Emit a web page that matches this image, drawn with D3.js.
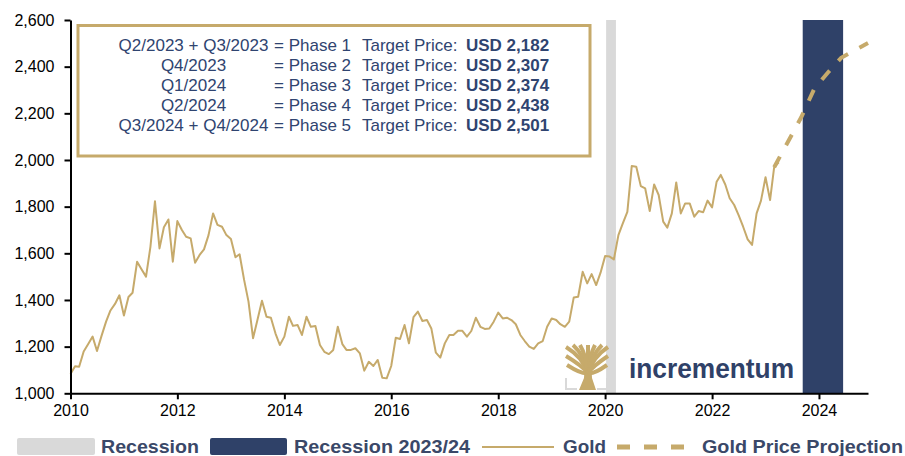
<!DOCTYPE html>
<html>
<head>
<meta charset="utf-8">
<script src="https://cdn.jsdelivr.net/npm/d3@7"></script>
<style>
  body { margin: 0; background: #fff; }
  svg { display: block; }
</style>
</head>
<body>
<div id="chart"></div>
<script>
// monthly gold price (USD/oz), Jan 2010 .. Apr 2023
var goldStart = new Date(2010, 0, 1);
var goldPrices = [
  1083, 1116, 1114, 1179, 1210, 1243, 1181, 1246, 1307, 1355, 1383, 1420,
  1333, 1413, 1431, 1564, 1532, 1500, 1628, 1823, 1621, 1712, 1745, 1564,
  1738, 1700, 1671, 1664, 1560, 1593, 1617, 1678, 1771, 1722, 1714, 1678,
  1661, 1583, 1596, 1486, 1393, 1236, 1314, 1397, 1328, 1324, 1257, 1207,
  1243, 1328, 1289, 1293, 1250, 1328, 1285, 1288, 1207, 1178, 1168, 1186,
  1285, 1211, 1186, 1186, 1193, 1171, 1097, 1135, 1117, 1143, 1067, 1064,
  1117, 1238, 1233, 1293, 1214, 1326, 1350, 1310, 1314, 1278, 1174, 1153,
  1214, 1250, 1250, 1268, 1268, 1243, 1267, 1324, 1285, 1276, 1278, 1307,
  1346, 1321, 1324, 1314, 1296, 1250, 1224, 1200, 1190, 1214, 1224, 1285,
  1321, 1314, 1296, 1285, 1307, 1411, 1414, 1521, 1471, 1511, 1464, 1517,
  1588, 1586, 1574, 1678, 1728, 1778, 1974, 1971, 1888, 1878, 1781, 1895,
  1850, 1736, 1710, 1771, 1904, 1771, 1814, 1814, 1757, 1781, 1776, 1826,
  1797, 1907, 1936, 1895, 1836, 1807, 1764, 1714, 1660, 1636, 1771, 1826,
  1926, 1828, 1969, 1990
];

// projection anchors (phase target prices)
var projectionDates = ["2023-03-01", "2023-09-01", "2023-12-01", "2024-03-01", "2024-06-01", "2024-12-01"];
var projectionValues = [1969, 2182, 2307, 2374, 2438, 2501];

// recession bands
var recessionStart = ["2020-01-08"];
var recessionEnd = ["2020-03-15"];
var recession2324Start = ["2023-09-12"];
var recession2324End = ["2024-06-14"];

var yTicks = [1000, 1200, 1400, 1600, 1800, 2000, 2200, 2400, 2600];
var xTickYears = [2010, 2012, 2014, 2016, 2018, 2020, 2022, 2024];

var phasePeriods = ["Q2/2023 + Q3/2023", "Q4/2023", "Q1/2024", "Q2/2024", "Q3/2024 + Q4/2024"];
var phaseNumbers = [1, 2, 3, 4, 5];
var targetPrices = [2182, 2307, 2374, 2438, 2501];

var legendLabels = ["Recession", "Recession 2023/24", "Gold", "Gold Price Projection"];

var GOLD = "#c6aa6b";
var NAVY = "#2f4168";
var TEXT_NAVY = "#2f4470";
var GREY = "#d9d9d9";
var FONT = "'Liberation Sans', Arial, sans-serif";
var NARROW = "'Liberation Sans Narrow', 'Arial Narrow', 'Liberation Sans', Arial, sans-serif";

var width = 905, height = 456;
var svg = d3.select("#chart").append("svg")
  .attr("width", width)
  .attr("height", height);

var parse = d3.timeParse("%Y-%m-%d");

var x = d3.scaleTime()
  .domain([new Date(2010, 0, 1), new Date(2024, 11, 1)])
  .range([70.5, 868]);
var y = d3.scaleLinear()
  .domain([1000, 2600])
  .range([393.3, 20]);

var goldData = goldPrices.map(function(v, i) {
  return { date: d3.timeMonth.offset(goldStart, i), value: v };
});
var projData = projectionDates.map(function(d, i) {
  return { date: parse(d), value: projectionValues[i] };
});

// recession bands
function drawBands(starts, ends, color) {
  svg.append("g").selectAll("rect")
    .data(starts)
    .enter().append("rect")
    .attr("x", function(d) { return x(parse(d)); })
    .attr("width", function(d, i) { return x(parse(ends[i])) - x(parse(d)); })
    .attr("y", y(2600))
    .attr("height", y(1000) - y(2600))
    .attr("fill", color);
}
drawBands(recessionStart, recessionEnd, GREY);
drawBands(recession2324Start, recession2324End, NAVY);

// phase box
var box = svg.append("g");
box.append("rect")
  .attr("x", 78).attr("y", 25.5)
  .attr("width", 512).attr("height", 130.5)
  .attr("fill", "#fff")
  .attr("stroke", GOLD)
  .attr("stroke-width", 3);

var rows = box.selectAll("g.row")
  .data(phasePeriods)
  .enter().append("g")
  .attr("class", "row")
  .attr("transform", function(d, i) { return "translate(0," + (51 + i * 20) + ")"; })
  .style("font-family", FONT)
  .style("font-size", "17px")
  .attr("fill", TEXT_NAVY);
rows.append("text")
  .attr("x", 193.5).attr("text-anchor", "middle")
  .text(function(d) { return d; });
rows.append("text")
  .attr("x", 274)
  .text(function(d, i) { return "= Phase " + phaseNumbers[i]; });
rows.append("text")
  .attr("x", 362)
  .text("Target Price:");
rows.append("text")
  .attr("x", 466)
  .style("font-weight", "bold")
  .text(function(d, i) { return "USD " + d3.format(",")(targetPrices[i]); });

// logo
function drawLogo(g) {
  g.append("path")
    .attr("d", "M566,378 L566,389 L577,389 M607,378 L607,389 L597,389")
    .attr("fill", "none").attr("stroke", GREY).attr("stroke-width", 2);
  g.append("path")
    .attr("d", "M579,390 L596,390 L592,378 L591.5,369 L584.5,369 L584,378 Z")
    .attr("fill", GOLD);
  var tips = [[566, 347], [566, 356], [567, 365], [573, 345], [580, 345],
              [588, 345], [595, 345], [602, 345], [608, 347], [608, 356], [607, 365]];
  g.selectAll("path.branch")
    .data(tips)
    .enter().append("path")
    .attr("class", "branch")
    .attr("d", function(t) {
      var cx = 588 + (t[0] - 588) * 0.25;
      return "M588,373 Q" + cx + "," + (t[1] + 10) + " " + t[0] + "," + t[1];
    })
    .attr("fill", "none").attr("stroke", GOLD).attr("stroke-width", 4);
  g.append("text")
    .attr("x", 629).attr("y", 378)
    .attr("textLength", 165).attr("lengthAdjust", "spacingAndGlyphs")
    .style("font-family", FONT).style("font-weight", "bold").style("font-size", "27px")
    .attr("fill", NAVY)
    .text("incrementum");
}
drawLogo(svg.append("g"));

// lines
var line = d3.line()
  .x(function(d) { return x(d.date); })
  .y(function(d) { return y(d.value); });

svg.append("path")
  .datum(goldData)
  .attr("d", line)
  .attr("fill", "none")
  .attr("stroke", GOLD)
  .attr("stroke-width", 2)
  .attr("stroke-linejoin", "round");

svg.append("path")
  .datum(projData)
  .attr("d", line)
  .attr("fill", "none")
  .attr("stroke", GOLD)
  .attr("stroke-width", 4)
  .attr("stroke-dasharray", "12,13");

// axes
var yAxis = svg.append("g")
  .attr("transform", "translate(70.5,0)")
  .call(d3.axisLeft(y).tickValues(yTicks).tickFormat(d3.format(",")).tickSize(6).tickSizeOuter(0).tickPadding(10));
var xAxis = svg.append("g")
  .attr("transform", "translate(0,393.3)")
  .call(d3.axisBottom(x)
    .tickValues(xTickYears.map(function(yr) { return new Date(yr, 0, 1); }))
    .tickFormat(d3.timeFormat("%Y")).tickSize(6).tickSizeOuter(0).tickPadding(5));

[yAxis, xAxis].forEach(function(a) {
  a.select(".domain").attr("stroke", "#000").attr("stroke-width", 2);
  a.selectAll(".tick line").attr("stroke", "#000").attr("stroke-width", 2);
  a.selectAll(".tick text").attr("fill", "#000")
    .style("font-family", FONT).style("font-size", "16px");
});

// legend
var leg = svg.append("g").style("font-family", NARROW).style("font-weight", "bold")
  .style("font-size", "19px").attr("fill", "#3a4868");
leg.append("rect").attr("x", 17).attr("y", 438).attr("width", 78).attr("height", 17).attr("rx", 2).attr("fill", GREY);
leg.append("rect").attr("x", 210).attr("y", 438).attr("width", 77).attr("height", 17).attr("rx", 2).attr("fill", NAVY);
leg.append("line").attr("x1", 482).attr("x2", 554).attr("y1", 447).attr("y2", 447)
  .attr("stroke", GOLD).attr("stroke-width", 2);
leg.append("line").attr("x1", 617).attr("x2", 686).attr("y1", 447).attr("y2", 447)
  .attr("stroke", GOLD).attr("stroke-width", 5).attr("stroke-dasharray", "13,14");

var legX = [101, 294, 563, 702];
var legW = [98, 176, 43, 201];
leg.selectAll("text.lab")
  .data(legendLabels)
  .enter().append("text")
  .attr("class", "lab")
  .attr("x", function(d, i) { return legX[i]; })
  .attr("y", 453)
  .attr("textLength", function(d, i) { return legW[i]; })
  .attr("lengthAdjust", "spacingAndGlyphs")
  .text(function(d) { return d; });
</script>
</body>
</html>
